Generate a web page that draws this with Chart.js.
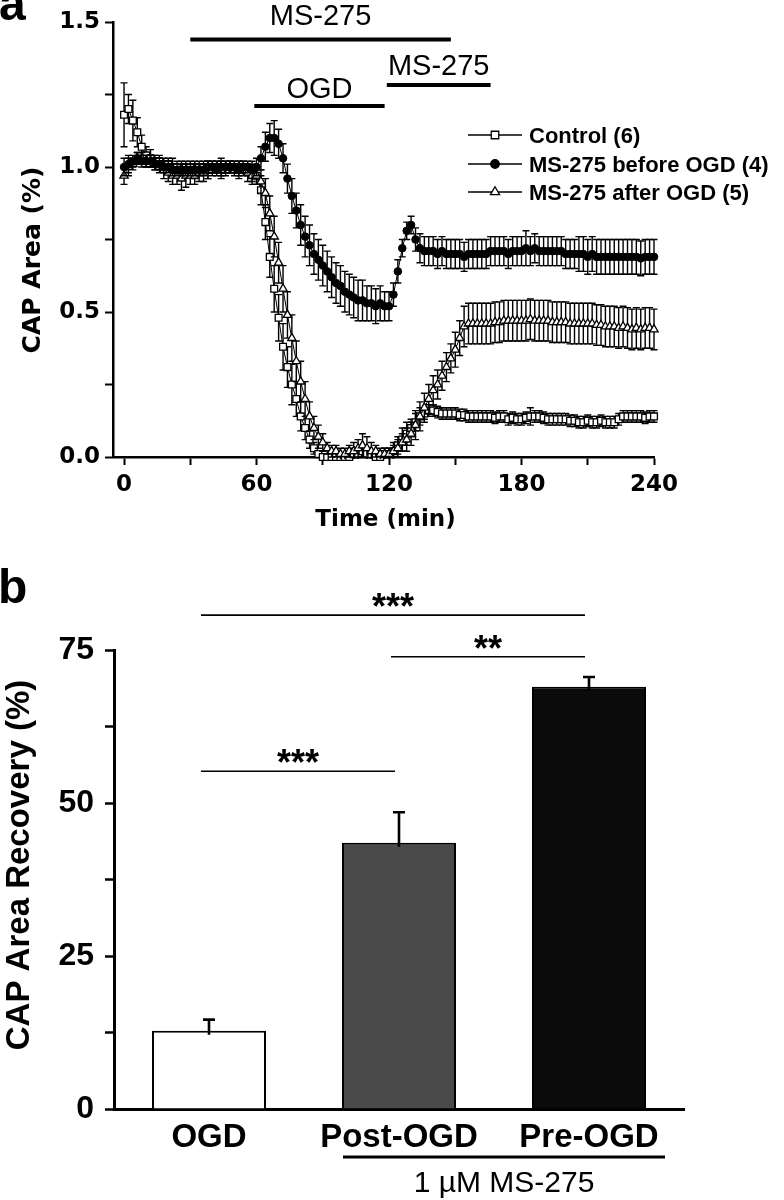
<!DOCTYPE html>
<html><head><meta charset="utf-8">
<script src="https://cdn.jsdelivr.net/npm/chart.js@4.4.1/dist/chart.umd.min.js"></script>
<style>
html,body{margin:0;padding:0;background:#fff;width:784px;height:1200px;overflow:hidden}
#c1{position:absolute;left:0;top:0}
#c2{position:absolute;left:0;top:545px}
</style></head><body>
<canvas id="c1" width="784" height="545"></canvas>
<canvas id="c2" width="784" height="655"></canvas>
<script>
// ---------- Panel a data ----------
const timeMin = [
0,2,4,6,8,10,12,14,16,18,
20,22,24,26,28,30,32,34,36,38,
40,42,44,46,48,50,52,54,56,58,
60,62,64,66,68,70,72,74,76,78,
80,82,84,86,88,90,92,94,96,98,
100,102,104,106,108,110,112,114,116,118,
120,122,124,126,128,130,132,134,136,138,
140,142,144,146,148,150,152,154,156,158,
160,162,164,166,168,170,172,174,176,178,
180,182,184,186,188,190,192,194,196,198,
200,202,204,206,208,210,212,214,216,218,
220,222,224,226,228,230,232,234,236,238,
240];
const seriesLabels = ['Control (6)', 'MS-275 before OGD (4)', 'MS-275 after OGD (5)'];
const controlMean = [
1.18,1.20,1.16,1.12,1.07,1.04,1.03,1.02,1.02,1.01,
1.01,1.00,1.00,0.99,1.00,1.00,0.99,1.00,1.00,0.99,
1.00,1.00,1.00,0.99,1.00,1.00,0.99,1.00,0.99,0.98,
0.97,0.92,0.81,0.69,0.58,0.48,0.38,0.31,0.25,0.20,
0.14,0.10,0.06,0.03,0.01,0.00,0.00,0.00,0.00,0.00,
0.00,0.00,0.01,0.01,0.02,0.01,0.01,0.00,0.00,0.01,
0.01,0.02,0.04,0.06,0.08,0.10,0.12,0.14,0.15,0.16,
0.16,0.155,0.15,0.15,0.15,0.15,0.145,0.145,0.14,0.14,
0.14,0.14,0.14,0.14,0.135,0.14,0.14,0.13,0.135,0.13,
0.13,0.135,0.14,0.14,0.14,0.135,0.13,0.13,0.13,0.13,
0.13,0.125,0.125,0.12,0.12,0.125,0.12,0.12,0.125,0.12,
0.12,0.12,0.13,0.14,0.14,0.14,0.14,0.14,0.135,0.14,
0.14];
const controlErr = [
0.11,0.05,0.07,0.05,0.04,0.03,0.03,0.02,0.02,0.02,
0.02,0.03,0.02,0.03,0.02,0.02,0.03,0.02,0.02,0.03,
0.02,0.02,0.03,0.02,0.02,0.02,0.03,0.02,0.02,0.03,
0.03,0.05,0.06,0.07,0.08,0.08,0.08,0.07,0.07,0.06,
0.05,0.04,0.03,0.02,0.01,0.01,0.01,0.01,0.01,0.01,
0.01,0.01,0.02,0.02,0.02,0.02,0.01,0.01,0.01,0.02,
0.02,0.03,0.03,0.04,0.04,0.03,0.03,0.03,0.02,0.02,
0.02,0.02,0.02,0.02,0.02,0.02,0.02,0.02,0.02,0.02,
0.02,0.02,0.02,0.02,0.02,0.02,0.02,0.02,0.02,0.02,
0.02,0.02,0.03,0.02,0.02,0.02,0.02,0.02,0.02,0.02,
0.02,0.02,0.02,0.02,0.02,0.02,0.02,0.02,0.02,0.02,
0.02,0.02,0.02,0.02,0.02,0.02,0.02,0.02,0.02,0.02,
0.02];
const beforeMean = [
1.00,1.01,1.02,1.03,1.02,1.02,1.02,1.01,1.01,1.00,
1.00,0.99,0.99,0.99,0.99,0.99,0.99,0.99,0.99,1.00,
1.00,0.99,1.00,1.00,1.00,1.00,0.99,1.00,1.00,0.99,
1.00,1.03,1.07,1.10,1.10,1.08,1.03,0.96,0.90,0.85,
0.80,0.76,0.73,0.70,0.68,0.66,0.64,0.62,0.60,0.59,
0.57,0.56,0.55,0.54,0.54,0.53,0.53,0.52,0.53,0.52,
0.52,0.56,0.64,0.72,0.78,0.80,0.75,0.72,0.71,0.71,
0.71,0.70,0.71,0.70,0.70,0.70,0.70,0.69,0.70,0.70,
0.70,0.70,0.70,0.71,0.71,0.71,0.71,0.70,0.71,0.71,
0.71,0.72,0.71,0.72,0.71,0.71,0.71,0.71,0.71,0.71,
0.70,0.70,0.70,0.70,0.70,0.69,0.70,0.69,0.69,0.69,
0.69,0.69,0.69,0.69,0.69,0.69,0.69,0.685,0.69,0.69,
0.69];
const beforeErr = [
0.03,0.03,0.02,0.02,0.02,0.02,0.02,0.02,0.02,0.02,
0.02,0.02,0.02,0.02,0.02,0.02,0.02,0.02,0.02,0.02,
0.02,0.02,0.02,0.02,0.02,0.02,0.02,0.02,0.02,0.03,
0.03,0.04,0.05,0.05,0.06,0.05,0.05,0.05,0.06,0.06,
0.07,0.07,0.07,0.07,0.07,0.07,0.07,0.07,0.07,0.07,
0.07,0.07,0.07,0.07,0.07,0.06,0.06,0.06,0.06,0.05,
0.05,0.04,0.04,0.03,0.03,0.03,0.04,0.05,0.05,0.05,
0.05,0.05,0.05,0.05,0.05,0.05,0.05,0.05,0.05,0.05,
0.05,0.05,0.05,0.05,0.05,0.05,0.05,0.05,0.05,0.05,
0.05,0.06,0.05,0.05,0.05,0.05,0.05,0.05,0.05,0.05,
0.05,0.05,0.05,0.06,0.06,0.06,0.06,0.06,0.06,0.06,
0.06,0.06,0.06,0.06,0.06,0.06,0.06,0.06,0.06,0.06,
0.06];
const afterMean = [
0.97,1.00,1.01,1.03,1.03,1.02,1.02,1.01,1.00,0.99,
0.98,0.97,0.97,0.96,0.97,0.97,0.97,0.98,0.98,0.99,
0.99,1.00,0.99,1.00,1.00,0.99,1.00,0.99,0.98,0.97,
0.97,0.95,0.91,0.84,0.76,0.67,0.58,0.49,0.41,0.33,
0.26,0.20,0.14,0.10,0.07,0.05,0.03,0.02,0.02,0.01,
0.01,0.02,0.02,0.03,0.04,0.03,0.02,0.02,0.01,0.01,
0.01,0.02,0.03,0.05,0.06,0.08,0.11,0.14,0.17,0.20,
0.23,0.25,0.28,0.31,0.34,0.37,0.41,0.45,0.46,0.46,
0.46,0.46,0.46,0.46,0.465,0.465,0.47,0.47,0.47,0.47,
0.47,0.47,0.475,0.47,0.47,0.47,0.47,0.465,0.465,0.465,
0.465,0.46,0.46,0.46,0.46,0.46,0.46,0.455,0.455,0.45,
0.45,0.45,0.445,0.45,0.445,0.44,0.445,0.44,0.445,0.445,
0.44];
const afterErr = [
0.03,0.03,0.02,0.02,0.02,0.02,0.02,0.02,0.02,0.03,
0.03,0.03,0.03,0.04,0.04,0.03,0.03,0.03,0.03,0.03,
0.02,0.02,0.03,0.02,0.02,0.02,0.02,0.02,0.03,0.03,
0.03,0.04,0.05,0.06,0.07,0.07,0.08,0.08,0.08,0.07,
0.07,0.06,0.05,0.04,0.04,0.03,0.02,0.02,0.02,0.02,
0.02,0.02,0.03,0.03,0.04,0.04,0.03,0.02,0.02,0.02,
0.02,0.02,0.03,0.03,0.04,0.04,0.05,0.05,0.05,0.05,
0.05,0.05,0.05,0.05,0.05,0.06,0.06,0.07,0.07,0.07,
0.07,0.07,0.07,0.07,0.07,0.07,0.07,0.07,0.07,0.07,
0.07,0.07,0.07,0.07,0.07,0.07,0.07,0.07,0.07,0.07,
0.07,0.07,0.07,0.07,0.07,0.07,0.07,0.07,0.07,0.07,
0.07,0.07,0.07,0.07,0.07,0.07,0.07,0.07,0.07,0.07,
0.07];
// treatment bars above panel a (minutes, and CAP-area level)
const treatmentLabels = ['MS-275', 'OGD', 'MS-275'];
const treatmentStart = [30, 59, 119];
const treatmentEnd = [148, 118, 166];
const treatmentLevel = [1.44, 1.21, 1.283];
const treatmentTextLevel = [1.49, 1.238, 1.317];
const xTickStep = 30, xLabelStep = 60;

// ---------- Panel b data ----------
const groups = ['OGD', 'Post-OGD', 'Pre-OGD'];
const recovery = [12.8, 43.5, 69.0];
const recoveryErr = [1.8, 5.0, 1.6];
const barColors = ['#ffffff', '#4a4a4a', '#0b0b0b'];
const sigFrom = [0, 1, 0];
const sigTo = [2, 2, 1];
const sigLevel = [80.7, 73.9, 55.2];
const sigText = ['***', '**', '***'];
const groupLabel = '1 µM MS-275';

const FT = '"DejaVu Sans", sans-serif';
const FB = '"Liberation Sans", Arial, sans-serif';

function pts(t, v){ return t.map((x,i)=>({x:x, y:v[i]})); }

const errorBars = {
  id:'errorBars',
  beforeDatasetDraw(chart, args){
    const ds = chart.data.datasets[args.index];
    if(!ds.errors) return;
    const ys = chart.scales.y, ctx = chart.ctx, ca = chart.chartArea;
    ctx.save();
    ctx.beginPath(); ctx.rect(ca.left-6, ca.top-10, ca.right-ca.left+12, ca.bottom-ca.top+12); ctx.clip();
    ctx.strokeStyle='#000'; ctx.lineWidth=1.4;
    args.meta.data.forEach((pt,i)=>{
      const v = ds.data[i].y, e = ds.errors[i];
      const x = pt.x, yt = ys.getPixelForValue(v+e), yb = ys.getPixelForValue(v-e);
      ctx.beginPath();
      ctx.moveTo(x,yt); ctx.lineTo(x,yb);
      ctx.moveTo(x-3.5,yt); ctx.lineTo(x+3.5,yt);
      ctx.moveTo(x-3.5,yb); ctx.lineTo(x+3.5,yb);
      ctx.stroke();
    });
    ctx.restore();
  }
};

const decorA = {
  id:'decorA',
  afterDraw(chart){
    const ctx = chart.ctx, xs = chart.scales.x, ys = chart.scales.y;
    ctx.save();
    ctx.fillStyle='#000'; ctx.strokeStyle='#000';
    // panel letter
    ctx.font = 'bold 48px '+FB; ctx.textAlign='left'; ctx.textBaseline='alphabetic';
    ctx.fillText('a', -1, 20);
    // axis titles
    ctx.font = 'bold 23px '+FT; ctx.textAlign='center';
    ctx.fillText('Time (min)', (chart.chartArea.left+chart.chartArea.right)/2+2, 526);
    ctx.save(); ctx.translate(33, 260); ctx.rotate(-Math.PI/2);
    ctx.font = 'bold 25px '+FT; ctx.textBaseline='middle'; ctx.fillText('CAP Area (%)', 0, 0);
    ctx.restore();
    // treatment bars
    ctx.font = '29px '+FB; ctx.textAlign='center'; ctx.textBaseline='alphabetic';
    ctx.lineWidth = 4;
    for(let i=0;i<treatmentLabels.length;i++){
      const x1 = xs.getPixelForValue(treatmentStart[i]), x2 = xs.getPixelForValue(treatmentEnd[i]);
      const y = ys.getPixelForValue(treatmentLevel[i]);
      ctx.beginPath(); ctx.moveTo(x1,y); ctx.lineTo(x2,y); ctx.stroke();
      ctx.fillText(treatmentLabels[i], (x1+x2)/2, ys.getPixelForValue(treatmentTextLevel[i]));
    }
    // legend
    const ds = chart.data.datasets;
    const rows = [143, 172, 200];
    ctx.font = 'bold 22px '+FB; ctx.textAlign='left';
    for(let i=0;i<ds.length;i++){
      const yc = rows[i]-8;
      ctx.lineWidth = 1.3; ctx.strokeStyle='#000';
      ctx.beginPath(); ctx.moveTo(468,yc); ctx.lineTo(522,yc); ctx.stroke();
      ctx.fillStyle = ds[i].pointBackgroundColor; ctx.strokeStyle='#000'; ctx.lineWidth=1.3;
      Chart.helpers.drawPoint(ctx, {pointStyle: ds[i].pointStyle, radius: ds[i].pointRadius+0.5, rotation:0, borderWidth:1.3}, 495, yc);
      ctx.fillStyle='#000';
      ctx.fillText(ds[i].label, 529, rows[i]);
    }
    ctx.restore();
  }
};

const chartA = new Chart(document.getElementById('c1'), {
  type:'line',
  data:{ datasets:[
    { label: seriesLabels[0], data: pts(timeMin, controlMean), errors: controlErr,
      pointStyle:'rect', pointRadius:4.8, pointBackgroundColor:'#ffffff', pointBorderColor:'#000', pointBorderWidth:1.3,
      borderColor:'#000', borderWidth:1, order:2, clip:8 },
    { label: seriesLabels[1], data: pts(timeMin, beforeMean), errors: beforeErr,
      pointStyle:'circle', pointRadius:3.8, pointBackgroundColor:'#000000', pointBorderColor:'#000', pointBorderWidth:1,
      borderColor:'#000', borderWidth:1, order:0, clip:8 },
    { label: seriesLabels[2], data: pts(timeMin, afterMean), errors: afterErr,
      pointStyle:'triangle', pointRadius:4.8, pointBackgroundColor:'#ffffff', pointBorderColor:'#000', pointBorderWidth:1.3,
      borderColor:'#000', borderWidth:1, order:1, clip:8 }
  ]},
  options:{
    responsive:false, animation:false, devicePixelRatio:1, events:[],
    layout:{ padding:{ top:22, right:130, left:0, bottom:0 } },
    plugins:{ legend:{display:false}, tooltip:{enabled:false} },
    scales:{
      x:{ type:'linear', min:-5, max:240,
        afterFit(s){ s.height = 88; },
        border:{ display:true, color:'#000', width:2.5 },
        grid:{ display:true, drawOnChartArea:false, drawTicks:true, tickLength:8, tickWidth:2, tickColor:'#000' },
        ticks:{ stepSize:xTickStep, includeBounds:false, autoSkip:false, maxRotation:0, padding:6, color:'#000',
          font:{ family:FT, size:23, weight:'bold' },
          callback:(v)=> (v % xLabelStep === 0 ? String(v) : '') }
      },
      y:{ min:0, max:1.5,
        afterFit(s){ s.width = 113; },
        border:{ display:true, color:'#000', width:2.5 },
        grid:{ display:true, drawOnChartArea:false, drawTicks:true, tickLength:8, tickWidth:2, tickColor:'#000' },
        ticks:{ stepSize:0.25, autoSkip:false, padding:5, color:'#000',
          font:{ family:FT, size:23, weight:'bold' },
          callback:(v)=> (Math.abs(v*2-Math.round(v*2))<1e-6 ? v.toFixed(1) : '') }
      }
    }
  },
  plugins:[errorBars, decorA]
});

const decorB = {
  id:'decorB',
  afterDatasetsDraw(chart){
    const ctx = chart.ctx, xs = chart.scales.x, ys = chart.scales.y;
    const ds = chart.data.datasets[0], meta = chart.getDatasetMeta(0);
    ctx.save();
    ctx.strokeStyle='#000'; ctx.lineWidth=2.6;
    meta.data.forEach((bar,i)=>{
      const v = ds.data[i], e = ds.errors[i];
      const yt = ys.getPixelForValue(v+e), yb = ys.getPixelForValue(v) + 4;
      ctx.beginPath(); ctx.moveTo(bar.x, yb); ctx.lineTo(bar.x, yt);
      ctx.moveTo(bar.x-6, yt); ctx.lineTo(bar.x+6, yt); ctx.stroke();
    });
    ctx.restore();
  },
  afterDraw(chart){
    const ctx = chart.ctx, xs = chart.scales.x, ys = chart.scales.y;
    ctx.save(); ctx.fillStyle='#000'; ctx.strokeStyle='#000';
    ctx.font='bold 48px '+FB; ctx.textAlign='left'; ctx.textBaseline='alphabetic';
    ctx.fillText('b', -2, 58);
    // y title
    ctx.save(); ctx.translate(20, 320); ctx.rotate(-Math.PI/2);
    ctx.font='bold 33px '+FB; ctx.textAlign='center'; ctx.textBaseline='middle';
    ctx.fillText('CAP Area Recovery (%)', 0, 0); ctx.restore();
    // significance brackets
    ctx.lineWidth=1.6; ctx.textAlign='center'; ctx.font='bold 36px '+FB;
    for(let i=0;i<sigText.length;i++){
      const x1 = xs.getPixelForValue(sigFrom[i]) - 8, x2 = xs.getPixelForValue(sigTo[i]) - 4;
      const y = ys.getPixelForValue(sigLevel[i]);
      ctx.beginPath(); ctx.moveTo(x1,y); ctx.lineTo(x2,y); ctx.stroke();
      ctx.fillText(sigText[i], (x1+x2)/2, y+4);
    }
    // group bracket
    const g1 = xs.getPixelForValue(1) - 56, g2 = xs.getPixelForValue(2) + 76;
    ctx.lineWidth=3;
    ctx.beginPath(); ctx.moveTo(g1, 612); ctx.lineTo(g2, 612); ctx.stroke();
    ctx.font='30px '+FB; ctx.fillText(groupLabel, (g1+g2)/2, 647);
    ctx.restore();
  }
};

const chartB = new Chart(document.getElementById('c2'), {
  type:'bar',
  data:{ labels: groups, datasets:[{ data: recovery, errors: recoveryErr, backgroundColor: barColors,
    borderColor:'#000', borderWidth:2, barPercentage:0.6, categoryPercentage:1 }] },
  options:{
    responsive:false, animation:false, devicePixelRatio:1, events:[],
    layout:{ padding:{ top:105, right:100, left:0, bottom:0 } },
    plugins:{ legend:{display:false}, tooltip:{enabled:false} },
    scales:{
      x:{ afterFit(s){ s.height = 91; },
        border:{ display:true, color:'#000', width:3 },
        grid:{ display:false },
        ticks:{ padding:1, color:'#000', font:{ family:FB, size:33, weight:'bold' } }
      },
      y:{ min:0, max:75,
        afterFit(s){ s.width = 114; },
        border:{ display:true, color:'#000', width:3 },
        grid:{ display:true, drawOnChartArea:false, drawTicks:true, tickLength:9, tickWidth:2.5, tickColor:'#000' },
        ticks:{ stepSize:12.5, autoSkip:false, padding:11, color:'#000',
          font:{ family:FB, size:32, weight:'bold' },
          callback:(v)=> (v % 25 === 0 ? String(v) : '') }
      }
    }
  },
  plugins:[decorB]
});
</script>
</body></html>
